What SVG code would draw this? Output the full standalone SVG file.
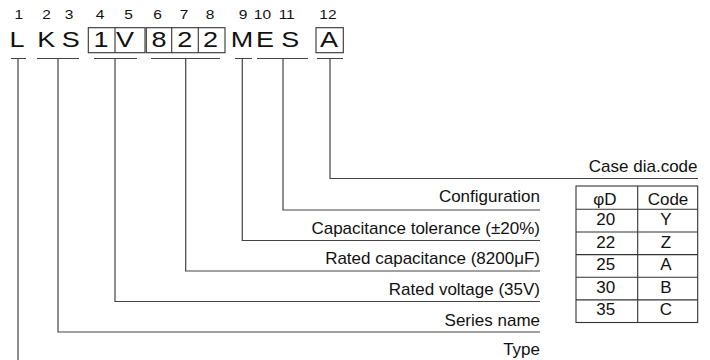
<svg xmlns="http://www.w3.org/2000/svg" width="710" height="360" viewBox="0 0 710 360">
<style>
text{font-family:"Liberation Sans",Arial,sans-serif;fill:#111}
.num{font-size:13.5px;text-anchor:middle}
.big{font-size:22.5px;text-anchor:middle}
.lbl{font-size:17px;text-anchor:end}
.tb{font-size:17px;text-anchor:middle}
.ln{fill:none;stroke:#444;stroke-width:1.2}
.bx{fill:none;stroke:#333;stroke-width:1.1}
</style>
<rect width="710" height="360" fill="#fff"/>
<g id="code">
<g transform="scale(1.15 1)">
<text class="num" x="16.35" y="19.5">1</text>
<text class="num" x="40.61" y="19.5">2</text>
<text class="num" x="60" y="19.5">3</text>
<text class="num" x="86.96" y="19.5">4</text>
<text class="num" x="111.74" y="19.5">5</text>
<text class="num" x="136.96" y="19.5">6</text>
<text class="num" x="160" y="19.5">7</text>
<text class="num" x="182.61" y="19.5">8</text>
<text class="num" x="211.3" y="19.5">9</text>
<text class="num" x="228.26" y="19.5">10</text>
<text class="num" x="249.3" y="19.5">11</text>
<text class="num" x="285.22" y="19.5">12</text>
</g>
<g transform="scale(1.2 1)">
<text class="big" x="14.17" y="47">L</text>
<text class="big" x="38.5" y="47">K</text>
<text class="big" x="59" y="47">S</text>
<text class="big" x="84.17" y="47">1</text>
<text class="big" x="104.17" y="47">V</text>
<text class="big" x="132.5" y="47">8</text>
<text class="big" x="153.92" y="47">2</text>
<text class="big" x="175.42" y="47">2</text>
<text class="big" x="201.67" y="47">M</text>
<text class="big" x="220.83" y="47">E</text>
<text class="big" x="241.92" y="47">S</text>
<text class="big" x="274.17" y="47">A</text>
</g>
<rect class="bx" x="88.3" y="27.7" width="56.7" height="25"/>
<line class="bx" x1="115" y1="27.7" x2="115" y2="52.7"/>
<rect class="bx" x="146.3" y="27.7" width="78.7" height="25"/>
<line class="bx" x1="171.7" y1="27.7" x2="171.7" y2="52.7"/>
<line class="bx" x1="198.3" y1="27.7" x2="198.3" y2="52.7"/>
<rect class="bx" x="316" y="27.7" width="27.3" height="25"/>
</g>
<g id="connectors">
<path class="ln" d="M11 58.5H26M18 58.5V360"/>
<path class="ln" d="M37 58.5H79M58 58.5V332H540"/>
<path class="ln" d="M94 58.5H137M115 58.5V301.5H540"/>
<path class="ln" d="M151 58.5H220M185.7 58.5V271H540"/>
<path class="ln" d="M235 58.5H252M242.3 58.5V240.5H540"/>
<path class="ln" d="M257 58.5H308M283 58.5V210H540"/>
<path class="ln" d="M317 58.5H343M330 58.5V178.5H698"/>
</g>
<g id="labels">
<text class="lbl" x="697.5" y="172">Case dia.code</text>
<text class="lbl" x="540" y="202">Configuration</text>
<text class="lbl" x="540" y="233.5">Capacitance tolerance (±20%)</text>
<text class="lbl" x="540" y="264">Rated capacitance (8200μF)</text>
<text class="lbl" x="540" y="295">Rated voltage (35V)</text>
<text class="lbl" x="540" y="325.5">Series name</text>
<text class="lbl" x="540" y="355">Type</text>
</g>
<g id="table">
<rect class="bx" x="576" y="186" width="121.7" height="136.5"/>
<line class="bx" x1="637.7" y1="186" x2="637.7" y2="322.5"/>
<path class="bx" d="M576 209.3H697.7M576 232H697.7M576 254.6H697.7M576 277.2H697.7M576 299.9H697.7"/>
<text class="tb" x="605" y="205">φD</text>
<text class="tb" x="668" y="205">Code</text>
<text class="tb" x="605.8" y="225">20</text>
<text class="tb" x="666" y="225">Y</text>
<text class="tb" x="605.8" y="247.5">22</text>
<text class="tb" x="666" y="247.5">Z</text>
<text class="tb" x="605.8" y="270">25</text>
<text class="tb" x="666" y="270">A</text>
<text class="tb" x="605.8" y="292.7">30</text>
<text class="tb" x="666" y="292.7">B</text>
<text class="tb" x="605.8" y="315.4">35</text>
<text class="tb" x="666" y="315.4">C</text>
</g>
</svg>
